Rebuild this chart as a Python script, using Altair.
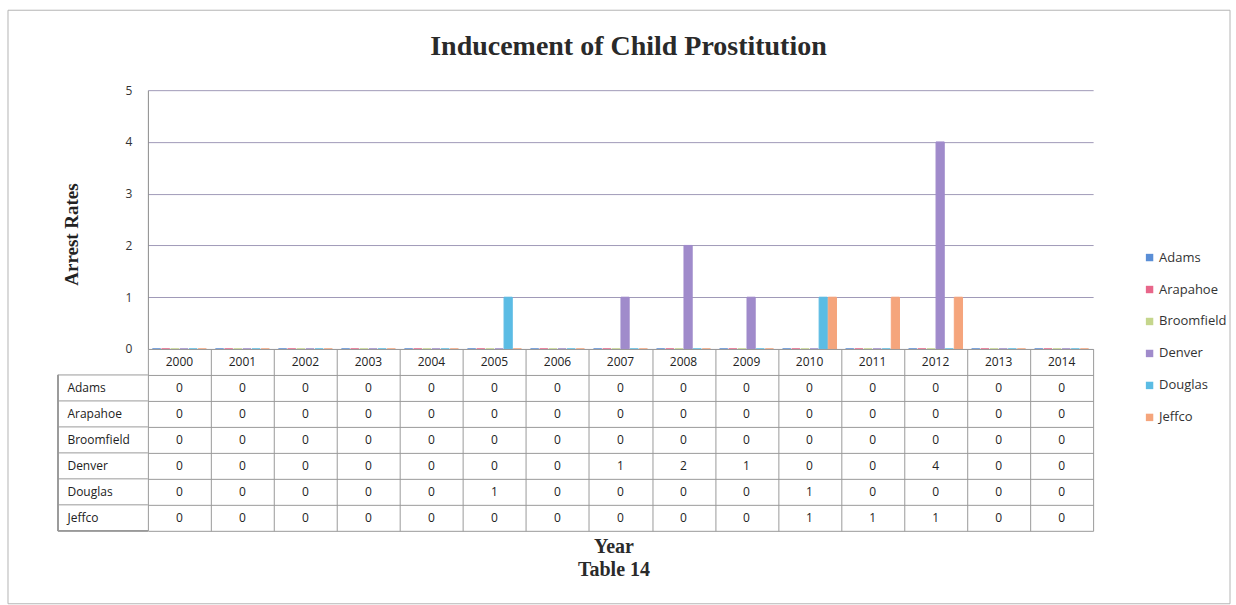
import altair as alt
import pandas as pd

years = ["2000", "2001", "2002", "2003", "2004", "2005", "2006", "2007",
         "2008", "2009", "2010", "2011", "2012", "2013", "2014"]
counties = ["Adams", "Arapahoe", "Broomfield", "Denver", "Douglas", "Jeffco"]
adams      = [0, 0, 0, 0, 0, 0, 0, 0, 0, 0, 0, 0, 0, 0, 0]
arapahoe   = [0, 0, 0, 0, 0, 0, 0, 0, 0, 0, 0, 0, 0, 0, 0]
broomfield = [0, 0, 0, 0, 0, 0, 0, 0, 0, 0, 0, 0, 0, 0, 0]
denver     = [0, 0, 0, 0, 0, 0, 0, 1, 2, 1, 0, 0, 4, 0, 0]
douglas    = [0, 0, 0, 0, 0, 1, 0, 0, 0, 0, 1, 0, 0, 0, 0]
jeffco     = [0, 0, 0, 0, 0, 0, 0, 0, 0, 0, 1, 1, 1, 0, 0]
colors = ["#5A8ED6", "#E8668A", "#C5D68C", "#A08BCB", "#5BBCE4", "#F5A57C"]

series = [adams, arapahoe, broomfield, denver, douglas, jeffco]
rows = []
for c, vals in zip(counties, series):
    for y, v in zip(years, vals):
        rows.append({"year": y, "county": c, "value": v})
df = pd.DataFrame(rows)

trows = [{"year": y, "row": "hdr", "label": y} for y in years]
trows += [{"year": r["year"], "row": r["county"], "label": str(r["value"])} for r in rows]
tdf = pd.DataFrame(trows)
row_domain = ["hdr"] + counties

SANS = "Open Sans"
SERIF = "Liberation Serif"
W, H, TH = 946, 259, 182
LINE = "#9a9a9a"

xscale = alt.Scale(domain=years, paddingInner=0, paddingOuter=0)
cscale = alt.Scale(domain=counties, range=colors)

bars = alt.Chart(df).mark_bar(strokeWidth=1).encode(
    x=alt.X("year:N", scale=xscale, axis=None),
    xOffset=alt.XOffset("county:N", scale=alt.Scale(domain=counties, paddingInner=0.1, paddingOuter=0.5)),
    y=alt.Y("value:Q", scale=alt.Scale(domain=[0, 5]),
            axis=alt.Axis(values=[0, 1, 2, 3, 4, 5], title="Arrest Rates", grid=True,
                          gridColor="#A09AB8", gridWidth=1, domainColor="#8a8a8a",
                          tickSize=0, labelPadding=16, labelFont=SANS, labelFontSize=12,
                          labelColor="#333", titleFont=SERIF, titleFontSize=19,
                          titleFontWeight="bold", titleColor="#222", titlePadding=44,
                          titleY=144)),
    color=alt.Color("county:N", scale=cscale,
                    legend=alt.Legend(title=None, orient="none", legendX=996, legendY=161,
                                      symbolType="square", symbolSize=55, symbolStrokeWidth=0,
                                      labelFont=SANS, labelFontSize=13, labelColor="#333",
                                      rowPadding=18, labelOffset=3)),
    stroke=alt.Stroke("county:N", scale=cscale, legend=None),
).properties(
    width=W, height=H,
    title=alt.TitleParams("Inducement of Child Prostitution", font=SERIF, fontSize=28,
                          fontWeight="bold", color="#2a2a2a", frame="group",
                          anchor="middle", dx=8, offset=23))

text = alt.Chart(tdf).mark_text(font=SANS, fontSize=12, color="#222").encode(
    x=alt.X("year:N", scale=xscale,
            axis=alt.Axis(grid=True, tickBand="extent", gridColor=LINE, labels=False,
                          ticks=False, domain=False, title=["Year", "Table 14"],
                          titleFont=SERIF, titleFontSize=20, titleFontWeight="bold",
                          titleColor="#2a2a2a", titlePadding=6, titleLineHeight=23,
                          titleX=466)),
    y=alt.Y("row:N", scale=alt.Scale(domain=row_domain, paddingInner=0, paddingOuter=0),
            axis=alt.Axis(grid=True, tickBand="extent", gridColor=LINE, ticks=False,
                          domain=False, title=None, labelAlign="left", labelPadding=81,
                          labelFont=SANS, labelFontSize=12, labelColor="#222",
                          labelExpr="datum.value == 'hdr' ? '' : datum.value")),
    text="label:N",
)

cdf = pd.DataFrame({"row": counties})
hlines = alt.Chart(cdf).mark_rule(color=LINE).encode(
    y=alt.Y("row:N", bandPosition=0, scale=alt.Scale(domain=row_domain, paddingInner=0, paddingOuter=0)),
    x=alt.value(-90), x2=alt.value(0),
)
bottom = alt.Chart(cdf).mark_rule(color=LINE).encode(
    x=alt.value(-90), x2=alt.value(0), y=alt.value(TH),
)
vline = alt.Chart(cdf).mark_rule(color=LINE).encode(
    x=alt.value(-90), y=alt.value(TH / 7), y2=alt.value(TH),
)

# outer frame of the picture (relative to the table's plot area at y=348, x=147)
fdf = pd.DataFrame({"k": [0]})
FC = "#b5b5b5"
f_top = alt.Chart(fdf).mark_rule(color=FC).encode(
    x=alt.value(-140), x2=alt.value(1083), y=alt.value(-339))
f_bot = alt.Chart(fdf).mark_rule(color=FC).encode(
    x=alt.value(-140), x2=alt.value(1083), y=alt.value(255))
f_left = alt.Chart(fdf).mark_rule(color=FC).encode(
    x=alt.value(-140), y=alt.value(-339), y2=alt.value(255))
f_right = alt.Chart(fdf).mark_rule(color=FC).encode(
    x=alt.value(1083), y=alt.value(-339), y2=alt.value(255))

table = alt.layer(text, hlines, bottom, vline, f_top, f_bot, f_left, f_right).properties(
    width=W, height=TH)

chart = alt.vconcat(bars, table, spacing=0, bounds="flush").properties(
    padding={"left": 7, "top": 9, "right": 5, "bottom": 1},
    background="white",
).configure_view(strokeWidth=0)

chart.save("out.html", embed_options={"renderer": "svg", "actions": False})
